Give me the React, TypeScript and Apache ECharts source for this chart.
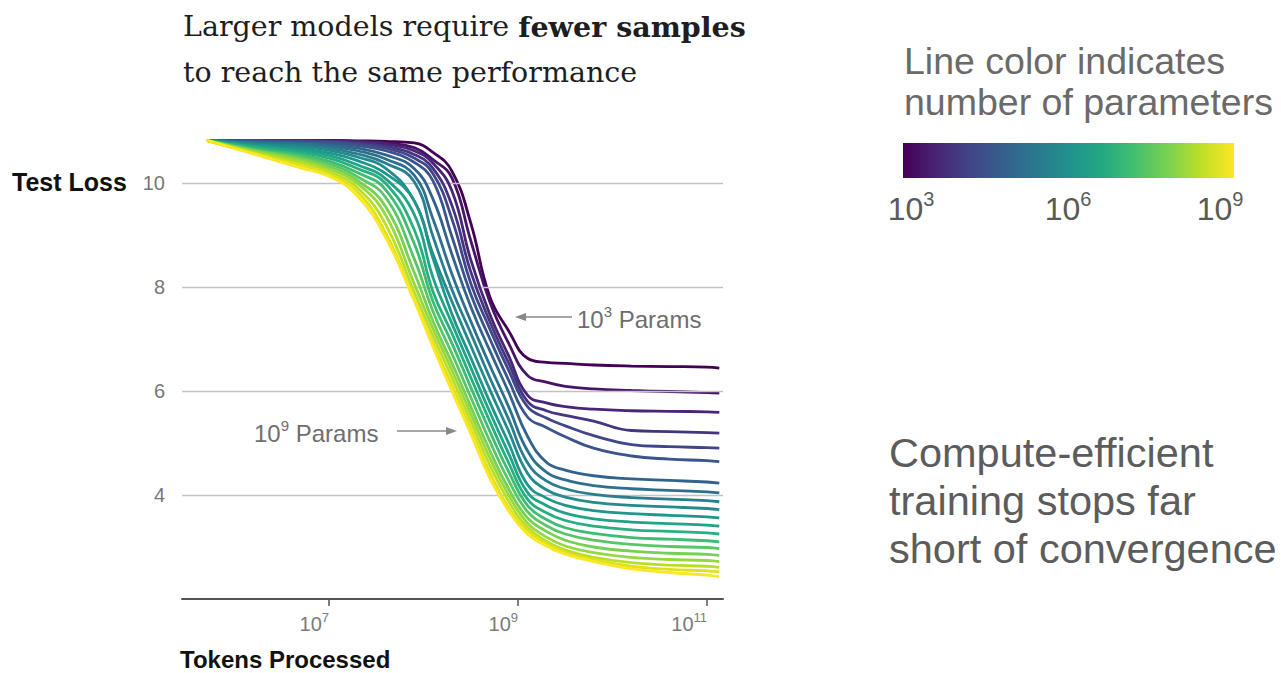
import React, { useEffect, useRef } from "react";
import * as echarts from "echarts";

// x: log10(tokens processed)
const TOKENS_LOG10 = [5.7, 6.2, 6.7, 7.0, 7.3, 7.6, 7.9, 8.1, 8.3, 8.5, 8.7, 8.9, 9.1, 9.3, 9.5, 9.8, 10.2, 10.6, 11.0, 11.13];

// model size (log10 params) for each curve
const PARAMS_LOG10 = [3.0, 3.32, 3.63, 3.95, 4.26, 4.58, 4.89, 5.21, 5.53, 5.84, 6.16, 6.47, 6.79, 7.11, 7.42, 7.74, 8.05, 8.37, 8.68, 9.0];

const LOSS_P0 = [10.82, 10.82, 10.82, 10.82, 10.81, 10.80, 10.77, 10.59, 10.23, 9.23, 7.82, 7.16, 6.63, 6.55, 6.53, 6.50, 6.48, 6.47, 6.46, 6.44];
const LOSS_P1 = [10.82, 10.82, 10.82, 10.82, 10.80, 10.77, 10.68, 10.45, 10.10, 8.89, 7.72, 6.92, 6.30, 6.17, 6.09, 6.04, 6.01, 5.99, 5.97, 5.96];
const LOSS_P2 = [10.82, 10.82, 10.81, 10.81, 10.79, 10.75, 10.62, 10.38, 9.85, 8.52, 7.48, 6.68, 5.92, 5.77, 5.70, 5.65, 5.62, 5.61, 5.60, 5.59];
const LOSS_P3 = [10.82, 10.82, 10.81, 10.80, 10.77, 10.71, 10.55, 10.28, 9.57, 8.29, 7.34, 6.54, 5.80, 5.62, 5.53, 5.42, 5.24, 5.22, 5.20, 5.19];
const LOSS_P4 = [10.82, 10.81, 10.80, 10.79, 10.75, 10.67, 10.48, 10.18, 9.31, 8.07, 7.20, 6.40, 5.70, 5.48, 5.33, 5.14, 4.97, 4.93, 4.91, 4.90];
const LOSS_P5 = [10.82, 10.81, 10.79, 10.77, 10.72, 10.62, 10.40, 10.04, 8.97, 7.86, 7.01, 6.21, 5.50, 5.30, 5.12, 4.90, 4.75, 4.69, 4.66, 4.64];
const LOSS_P6 = [10.82, 10.79, 10.77, 10.74, 10.67, 10.54, 10.28, 9.69, 8.63, 7.62, 6.78, 5.98, 5.13, 4.63, 4.48, 4.37, 4.31, 4.28, 4.25, 4.23];
const LOSS_P7 = [10.82, 10.78, 10.75, 10.71, 10.62, 10.46, 10.15, 9.31, 8.25, 7.34, 6.50, 5.70, 4.85, 4.44, 4.29, 4.18, 4.12, 4.09, 4.06, 4.04];
const LOSS_P8 = [10.82, 10.76, 10.72, 10.67, 10.56, 10.38, 10.03, 8.97, 7.95, 7.11, 6.26, 5.46, 4.62, 4.27, 4.12, 4.01, 3.95, 3.92, 3.89, 3.87];
const LOSS_P9 = [10.82, 10.75, 10.69, 10.63, 10.50, 10.28, 9.66, 8.63, 7.72, 6.87, 6.03, 5.23, 4.42, 4.10, 3.96, 3.86, 3.80, 3.77, 3.74, 3.72];
const LOSS_P10 = [10.82, 10.73, 10.65, 10.58, 10.43, 10.18, 9.66, 8.55, 7.48, 6.64, 5.79, 5.00, 4.20, 3.94, 3.80, 3.70, 3.64, 3.61, 3.58, 3.56];
const LOSS_P11 = [10.82, 10.71, 10.62, 10.53, 10.35, 10.08, 9.40, 8.18, 7.30, 6.45, 5.60, 4.80, 4.05, 3.80, 3.65, 3.54, 3.48, 3.45, 3.42, 3.40];
const LOSS_P12 = [10.82, 10.69, 10.58, 10.48, 10.28, 9.99, 9.11, 7.91, 7.11, 6.26, 5.42, 4.62, 3.92, 3.66, 3.51, 3.40, 3.33, 3.30, 3.27, 3.25];
const LOSS_P13 = [10.82, 10.66, 10.54, 10.42, 10.20, 9.87, 8.84, 7.72, 6.92, 6.07, 5.23, 4.45, 3.80, 3.53, 3.37, 3.26, 3.18, 3.15, 3.12, 3.10];
const LOSS_P14 = [10.82, 10.64, 10.50, 10.37, 10.12, 9.72, 8.55, 7.53, 6.72, 5.88, 5.04, 4.28, 3.68, 3.41, 3.25, 3.13, 3.05, 3.01, 2.99, 2.97];
const LOSS_P15 = [10.82, 10.63, 10.47, 10.32, 10.05, 9.54, 8.29, 7.34, 6.54, 5.70, 4.86, 4.12, 3.56, 3.30, 3.13, 3.00, 2.92, 2.88, 2.86, 2.84];
const LOSS_P16 = [10.82, 10.61, 10.43, 10.27, 9.99, 9.38, 8.07, 7.20, 6.40, 5.56, 4.72, 4.00, 3.46, 3.19, 3.02, 2.89, 2.80, 2.76, 2.74, 2.72];
const LOSS_P17 = [10.82, 10.59, 10.39, 10.22, 9.91, 9.20, 7.91, 7.06, 6.26, 5.42, 4.58, 3.88, 3.38, 3.11, 2.94, 2.80, 2.70, 2.65, 2.63, 2.61];
const LOSS_P18 = [10.82, 10.57, 10.34, 10.17, 9.83, 9.04, 7.77, 6.92, 6.12, 5.28, 4.44, 3.76, 3.32, 3.07, 2.90, 2.76, 2.63, 2.57, 2.54, 2.52];
const LOSS_P19 = [10.82, 10.56, 10.29, 10.13, 9.75, 8.95, 7.74, 6.85, 6.00, 5.18, 4.33, 3.70, 3.25, 3.02, 2.86, 2.72, 2.58, 2.51, 2.46, 2.43];

const LOSS_CURVES = [
  LOSS_P0, LOSS_P1, LOSS_P2, LOSS_P3, LOSS_P4, LOSS_P5, LOSS_P6, LOSS_P7, LOSS_P8, LOSS_P9,
  LOSS_P10, LOSS_P11, LOSS_P12, LOSS_P13, LOSS_P14, LOSS_P15, LOSS_P16, LOSS_P17, LOSS_P18, LOSS_P19,
];

const LINE_COLORS = [
  "#440154", "#471466", "#482576", "#453581", "#404688", "#3a548c", "#33638d", "#2d708e", "#287d8e", "#238a8d",
  "#1f968b", "#20a386", "#29af7f", "#3dbc74", "#56c667", "#75d054", "#95d840", "#bade28", "#dde318", "#fde725",
];

const VIRIDIS_STOPS = ["#440154", "#482475", "#414487", "#355f8d", "#2a788e", "#21918c", "#22a884", "#44bf70", "#7ad151", "#bddf26", "#fde725"];

const X_TICKS = [7, 9, 11];
const Y_TICKS = [4, 6, 8, 10];
const COLORBAR_TICKS = ["3", "6", "9"];

const SANS = "'Liberation Sans', Arial, Helvetica, sans-serif";
const SERIF = "'DejaVu Serif', serif";

// rich styles for axis labels (echarts option uses `color`)
function supRichAxis(base: number, sup: number, color: string) {
  return {
    n: { fontSize: base, fontFamily: SANS, color, lineHeight: base * 1.25 },
    s: { fontSize: sup, fontFamily: SANS, color, lineHeight: sup, verticalAlign: "top" },
  };
}
// rich styles for graphic texts (zrender style uses `fill`)
function supRichGraphic(base: number, sup: number, fill: string) {
  return {
    n: { fontSize: base, fontFamily: SANS, fill, lineHeight: base * 1.25 },
    s: { fontSize: sup, fontFamily: SANS, fill, lineHeight: sup, verticalAlign: "top" },
  };
}

export default function App() {
  const ref = useRef<HTMLDivElement>(null);

  useEffect(() => {
    if (!ref.current) return;
    const chart = echarts.init(ref.current, undefined, { renderer: "svg" });

    const series: any[] = LOSS_CURVES.map((curve, k) => ({
      type: "line",
      name: "1e" + PARAMS_LOG10[k],
      data: TOKENS_LOG10.map((x, i) => [x, curve[i]]),
      showSymbol: false,
      symbol: "none",
      smooth: 0.45,
      lineStyle: { color: LINE_COLORS[k], width: 2.8 },
      z: 3 + k,
    }));

    // horizontal reference lines at the labelled loss values
    series.push({
      type: "line",
      name: "grid",
      data: [],
      z: 1,
      markLine: {
        silent: true,
        symbol: "none",
        label: { show: false },
        lineStyle: { color: "#c2c2c2", width: 1.3, type: "solid" },
        data: Y_TICKS.map((v) => ({ yAxis: v })),
      },
    });

    const cbLeft = 903, cbRight = 1234;
    const cbLabelX = [911, 1068, 1220];

    chart.setOption({
      animation: false,
      backgroundColor: "#ffffff",
      grid: { left: 182, right: 558, top: 131, bottom: 74 },
      xAxis: {
        type: "value",
        min: 5.444,
        max: 11.169,
        axisLine: { show: true, lineStyle: { color: "#555", width: 2 } },
        axisTick: { show: true, customValues: X_TICKS, length: 7, lineStyle: { color: "#555", width: 1.5 } },
        axisLabel: {
          customValues: X_TICKS,
          align: "right",
          margin: 12,
          formatter: (v: number) => `{n|10}{s|${v}}`,
          rich: supRichAxis(20, 13, "#7a7a7a"),
        },
        splitLine: { show: false },
      },
      yAxis: {
        type: "value",
        min: 2,
        max: 11,
        interval: 2,
        axisLine: { show: false },
        axisTick: { show: false },
        axisLabel: {
          margin: 17,
          color: "#777",
          fontSize: 20,
          fontFamily: SANS,
          formatter: (v: number) => (Y_TICKS.includes(v) ? String(v) : ""),
        },
        splitLine: { show: false },
      },
      series,
      graphic: [
        {
          type: "text", left: 183, top: 12,
          style: {
            text: "{r|Larger models require }{b|fewer samples}",
            rich: {
              r: { fontFamily: SERIF, fontSize: 28.5, fill: "#1e1e1e" },
              b: { fontFamily: SERIF, fontSize: 28.5, fontWeight: "bold", fill: "#1e1e1e" },
            },
          },
        },
        {
          type: "text", left: 183, top: 58,
          style: { text: "to reach the same performance", fontFamily: SERIF, fontSize: 28.5, fill: "#1e1e1e" },
        },
        {
          type: "text", x: 12, y: 182,
          style: { text: "Test Loss", fontFamily: SANS, fontSize: 25, fontWeight: "bold", fill: "#111", verticalAlign: "middle" },
        },
        {
          type: "text", x: 180, y: 659,
          style: { text: "Tokens Processed", fontFamily: SANS, fontSize: 24, fontWeight: "bold", fill: "#111", verticalAlign: "middle" },
        },
        // annotations
        {
          type: "text", x: 577, y: 319,
          style: { text: "{n|10}{s|3}{n| Params}", rich: supRichGraphic(24, 15, "#6e6e6e"), verticalAlign: "middle" },
        },
        { type: "line", shape: { x1: 524, y1: 317, x2: 572, y2: 317 }, style: { stroke: "#888", lineWidth: 1.5 } },
        { type: "polygon", shape: { points: [[515, 317], [526, 313], [526, 321]] }, style: { fill: "#888" } },
        {
          type: "text", x: 254, y: 433,
          style: { text: "{n|10}{s|9}{n| Params}", rich: supRichGraphic(24, 15, "#6e6e6e"), verticalAlign: "middle" },
        },
        { type: "line", shape: { x1: 397, y1: 431, x2: 448, y2: 431 }, style: { stroke: "#888", lineWidth: 1.5 } },
        { type: "polygon", shape: { points: [[457, 431], [446, 427], [446, 435]] }, style: { fill: "#888" } },
        // right side legend
        {
          type: "text", x: 904, y: 61,
          style: { text: "Line color indicates", fontFamily: SANS, fontSize: 37.5, fill: "#6a6a6a", verticalAlign: "middle" },
        },
        {
          type: "text", x: 904, y: 102,
          style: { text: "number of parameters", fontFamily: SANS, fontSize: 37.5, fill: "#6a6a6a", verticalAlign: "middle" },
        },
        {
          type: "rect",
          shape: { x: cbLeft, y: 143, width: cbRight - cbLeft, height: 35 },
          style: {
            fill: {
              type: "linear", x: 0, y: 0, x2: 1, y2: 0,
              colorStops: VIRIDIS_STOPS.map((c, i) => ({ offset: i / (VIRIDIS_STOPS.length - 1), color: c })),
            },
          },
        },
        ...COLORBAR_TICKS.map((t, i) => ({
          type: "text", x: cbLabelX[i], y: 209,
          style: { text: `{n|10}{s|${t}}`, rich: supRichGraphic(32, 20, "#5a5a5a"), align: "center", verticalAlign: "middle" },
        })),
        {
          type: "text", x: 889, y: 452,
          style: { text: "Compute-efficient", fontFamily: SANS, fontSize: 41.5, fill: "#5c5c5c", verticalAlign: "middle" },
        },
        {
          type: "text", x: 889, y: 500,
          style: { text: "training stops far", fontFamily: SANS, fontSize: 41.5, fill: "#5c5c5c", verticalAlign: "middle" },
        },
        {
          type: "text", x: 889, y: 548,
          style: { text: "short of convergence", fontFamily: SANS, fontSize: 41.5, fill: "#5c5c5c", verticalAlign: "middle" },
        },
      ],
    });

    return () => chart.dispose();
  }, []);

  return (
    <div
      ref={ref}
      style={{ position: "fixed", left: 0, top: 0, width: 1281, height: 673, background: "#fff" }}
    />
  );
}
